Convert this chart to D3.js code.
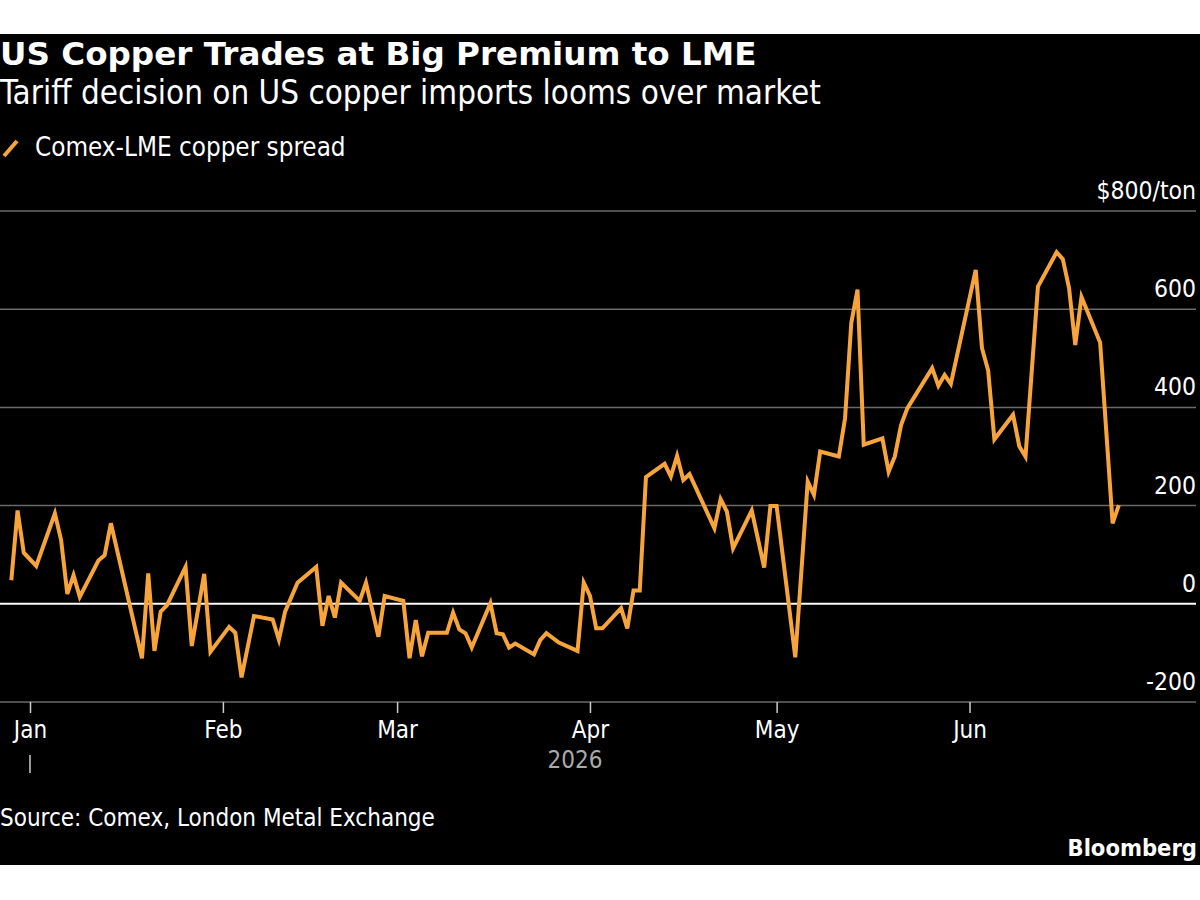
<!DOCTYPE html>
<html>
<head>
<meta charset="utf-8">
<script src="https://cdn.jsdelivr.net/npm/d3@7"></script>
<style>
    body { margin: 0; background: #fff; }
    text { font-family: "DejaVu Sans Condensed", "DejaVu Sans", sans-serif; fill: #fff; }
</style>
</head>
<body>
<div id="chart"></div>
<script>
// Comex-LME copper spread, $/ton (trading days)
const dates = [
    "2025-12-29", "2025-12-30", "2025-12-31", "2026-01-02", "2026-01-05", "2026-01-06", "2026-01-07",
    "2026-01-08", "2026-01-09", "2026-01-12", "2026-01-13", "2026-01-14", "2026-01-19", "2026-01-20",
    "2026-01-21", "2026-01-22", "2026-01-23", "2026-01-26", "2026-01-27", "2026-01-29", "2026-01-30",
    "2026-02-02", "2026-02-03", "2026-02-04", "2026-02-06", "2026-02-09", "2026-02-10", "2026-02-11",
    "2026-02-13", "2026-02-16", "2026-02-17", "2026-02-18", "2026-02-19", "2026-02-20", "2026-02-23",
    "2026-02-24", "2026-02-26", "2026-02-27", "2026-03-02", "2026-03-03", "2026-03-04", "2026-03-05",
    "2026-03-06", "2026-03-09", "2026-03-10", "2026-03-11", "2026-03-12", "2026-03-13", "2026-03-16",
    "2026-03-17", "2026-03-18", "2026-03-19", "2026-03-20", "2026-03-23", "2026-03-24", "2026-03-25",
    "2026-03-27", "2026-03-30", "2026-03-31", "2026-04-01", "2026-04-02", "2026-04-03", "2026-04-06",
    "2026-04-07", "2026-04-08", "2026-04-09", "2026-04-10", "2026-04-13", "2026-04-14", "2026-04-15",
    "2026-04-16", "2026-04-17", "2026-04-21", "2026-04-22", "2026-04-23", "2026-04-24", "2026-04-27",
    "2026-04-29", "2026-04-30", "2026-05-01", "2026-05-04", "2026-05-06", "2026-05-07", "2026-05-08",
    "2026-05-11", "2026-05-12", "2026-05-13", "2026-05-14", "2026-05-15", "2026-05-18", "2026-05-19",
    "2026-05-20", "2026-05-21", "2026-05-22", "2026-05-26", "2026-05-27", "2026-05-28", "2026-05-29",
    "2026-06-02", "2026-06-03", "2026-06-04", "2026-06-05", "2026-06-08", "2026-06-09", "2026-06-10",
    "2026-06-12", "2026-06-15", "2026-06-16", "2026-06-17", "2026-06-18", "2026-06-19", "2026-06-22",
    "2026-06-24", "2026-06-25"
];

const spread = [
    48, 190, 104, 77, 184, 130, 20,
    58, 14, 88, 99, 164, -111, 62,
    -96, -16, -3, 75, -86, 61, -98,
    -47, -59, -150, -25, -32, -73, -16,
    43, 75, -45, 16, -28, 43, 6,
    43, -67, 16, 6, -111, -33, -107,
    -59, -59, -18, -52, -60, -89, 1,
    -60, -62, -89, -81, -103, -74, -60,
    -79, -96, 43, 16, -50, -50, -9,
    -50, 27, 27, 258, 285, 259, 301,
    252, 264, 154, 213, 188, 113, 190,
    74, 199, 199, -109, 249, 222, 310,
    300, 378, 572, 640, 324, 337, 269,
    300, 364, 398, 480, 444, 466, 448,
    680, 521, 475, 335, 385, 321, 300,
    646, 716, 702, 643, 527, 625, 532,
    164, 201
];

const yTicks = [-200, 0, 200, 400, 600, 800];
const monthTicks = ["2026-01-01", "2026-02-01", "2026-03-01", "2026-04-01", "2026-05-01", "2026-06-01"];
const yearLabel = "2026";

const parseDate = d3.timeParse("%Y-%m-%d");
const data = dates.map((d, i) => ({date: parseDate(d), value: spread[i]}));

const width = 1200, height = 900;
const lineColor = "#f7a53b";

const svg = d3.select("#chart").append("svg")
    .attr("width", width)
    .attr("height", height);

// black panel
svg.append("rect")
    .attr("x", 0).attr("y", 34)
    .attr("width", width).attr("height", 831)
    .attr("fill", "#000");

// scales
const x = d3.scaleTime()
    .domain([parseDate("2026-01-01"), parseDate("2026-06-01")])
    .range([30, 969.5]);

const y = d3.scaleLinear()
    .domain([-200, 800])
    .range([702, 211]);

// titles
svg.append("text")
    .attr("x", 0).attr("y", 65)
    .style("font-family", "'DejaVu Sans', sans-serif")
    .style("font-weight", "bold")
    .style("font-size", "32.6px")
    .text("US Copper Trades at Big Premium to LME");

svg.append("text")
    .attr("x", 0).attr("y", 104)
    .style("font-size", "32.9px")
    .text("Tariff decision on US copper imports looms over market");

// legend
svg.append("line")
    .attr("x1", 4).attr("y1", 156)
    .attr("x2", 17).attr("y2", 141)
    .attr("stroke", lineColor)
    .attr("stroke-width", 4)
    .attr("stroke-linecap", "butt");

svg.append("text")
    .attr("x", 35).attr("y", 156)
    .style("font-size", "25.8px")
    .text("Comex-LME copper spread");

// gridlines
const grid = svg.append("g").attr("class", "grid");
grid.selectAll("line")
    .data(yTicks)
    .enter().append("line")
    .attr("x1", 0).attr("x2", 1196)
    .attr("y1", d => y(d)).attr("y2", d => y(d))
    .attr("stroke", d => d === 0 ? "#fff" : "#6a6a6a")
    .attr("stroke-width", d => d === 0 ? 2 : 1.5);

// y labels, right aligned above gridlines
grid.selectAll("text")
    .data(yTicks)
    .enter().append("text")
    .attr("x", 1196)
    .attr("y", d => y(d) - 12)
    .attr("text-anchor", "end")
    .style("font-size", "24.5px")
    .text(d => d === 800 ? "$800/ton" : d);

// x axis
const xAxis = d3.axisBottom(x)
    .tickValues(monthTicks.map(parseDate))
    .tickFormat(d3.timeFormat("%b"))
    .tickSize(11)
    .tickPadding(8);

const xg = svg.append("g")
    .attr("transform", `translate(0, ${y(-200)})`)
    .call(xAxis);

xg.select(".domain").remove();
xg.selectAll(".tick line").attr("stroke", "#ccc").attr("stroke-width", 1.5);
xg.selectAll(".tick text")
    .attr("fill", "#fff")
    .style("font-family", "'DejaVu Sans Condensed', 'DejaVu Sans', sans-serif")
    .style("font-size", "24px");

// year marker
const first = data[0].date, last = data[data.length - 1].date;
svg.append("line")
    .attr("x1", x(parseDate("2026-01-01"))).attr("x2", x(parseDate("2026-01-01")))
    .attr("y1", 755).attr("y2", 773)
    .attr("stroke", "#ccc")
    .attr("stroke-width", 1.5);

svg.append("text")
    .attr("x", (x(first) + x(last)) / 2 + 10)
    .attr("y", 768)
    .attr("text-anchor", "middle")
    .style("font-size", "24px")
    .style("fill", "#aaa")
    .text(yearLabel);

// the spread line
const line = d3.line()
    .x(d => x(d.date))
    .y(d => y(d.value));

svg.append("path")
    .datum(data)
    .attr("fill", "none")
    .attr("stroke", lineColor)
    .attr("stroke-width", 4)
    .attr("stroke-linejoin", "miter")
    .attr("d", line);

// footer
svg.append("text")
    .attr("x", 0).attr("y", 826)
    .style("font-size", "24px")
    .text("Source: Comex, London Metal Exchange");

svg.append("text")
    .attr("x", 1197).attr("y", 856)
    .attr("text-anchor", "end")
    .style("font-weight", "bold")
    .style("font-size", "23.5px")
    .text("Bloomberg");
</script>
</body>
</html>
